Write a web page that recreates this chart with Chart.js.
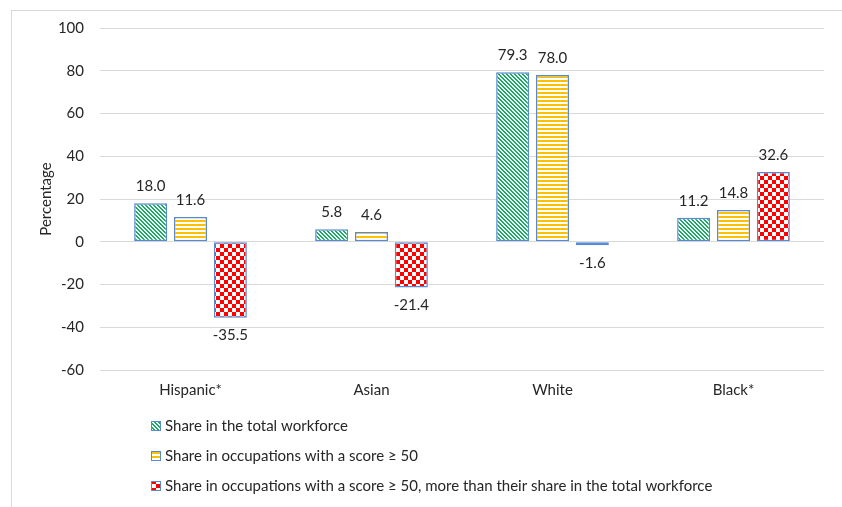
<!DOCTYPE html>
<html>
<head>
<meta charset="utf-8">
<script src="https://cdn.jsdelivr.net/npm/chart.js@4/dist/chart.umd.min.js"></script>
<style>
  html, body { margin: 0; padding: 0; background: #ffffff; }
  #wrap { position: relative; width: 842px; height: 507px; }
</style>
</head>
<body>
<div id="wrap"><canvas id="chart" width="842" height="507"></canvas></div>
<script>
// Workforce shares by group (percentages)
const categories = ['Hispanic*', 'Asian', 'White', 'Black*'];
const totalWorkforceShare = [18.0, 5.8, 79.3, 11.2];
const highScoreShare = [11.6, 4.6, 78.0, 14.8];
const excessOverWorkforce = [-35.5, -21.4, -1.6, 32.6];
const seriesNames = [
  'Share in the total workforce',
  'Share in occupations with a score \u2265 50',
  'Share in occupations with a score \u2265 50, more than their share in the total workforce'
];
const yMin = -60, yMax = 100, yStep = 20;

const FONT = 'Lato, "Liberation Sans", sans-serif';
const TEXT = '#262626';
const EDGE = '#5a88d2';

// Fill patterns: green downward diagonal, gold horizontal bands, red checkerboard
function makePattern(kind) {
  const c = document.createElement('canvas');
  const s = 8;
  c.width = s; c.height = s;
  const g = c.getContext('2d');
  g.fillStyle = '#ffffff';
  g.fillRect(0, 0, s, s);
  for (let y = 0; y < s; y++) {
    for (let x = 0; x < s; x++) {
      let on = false, col = '#000';
      if (kind === 'diag') { on = (((x - y) % 4) + 4) % 4 < 2; col = '#10b060'; }
      if (kind === 'hband') { on = (y % 4) < 2; col = '#ffc000'; }
      if (kind === 'check') { on = ((Math.floor(x / 4) + Math.floor(y / 4)) % 2) === 0; col = '#ff0000'; }
      if (on) { g.fillStyle = col; g.fillRect(x, y, 1, 1); }
    }
  }
  return g.createPattern(c, 'repeat');
}
const fills = [makePattern('diag'), makePattern('hband'), makePattern('check')];

// Values printed above positive bars and below negative ones
const valueLabels = {
  id: 'valueLabels',
  afterDatasetsDraw(chart) {
    const ctx = chart.ctx;
    ctx.save();
    ctx.font = '15px ' + FONT;
    ctx.fillStyle = TEXT;
    ctx.textAlign = 'center';
    ctx.textBaseline = 'middle';
    chart.data.datasets.forEach((ds, i) => {
      chart.getDatasetMeta(i).data.forEach((bar, j) => {
        const v = ds.data[j];
        const y = v >= 0 ? bar.y - 17 : bar.y + 18;
        ctx.fillText(v.toFixed(1), bar.x, y);
      });
    });
    ctx.restore();
  }
};

// Outer frame and stacked legend below the plot
const frameAndLegend = {
  id: 'frameAndLegend',
  beforeDraw(chart) {
    const ctx = chart.ctx;
    ctx.save();
    ctx.strokeStyle = '#d9d9d9';
    ctx.lineWidth = 1;
    ctx.strokeRect(11.5, 10.5, 900, 700);
    ctx.restore();
  },
  afterDraw(chart) {
    const ctx = chart.ctx;
    ctx.save();
    ctx.font = '15px ' + FONT;
    ctx.textBaseline = 'middle';
    ctx.textAlign = 'left';
    chart.data.datasets.forEach((ds, i) => {
      const cy = 426 + i * 30;
      ctx.fillStyle = ds.backgroundColor;
      ctx.fillRect(151, cy - 5, 10, 10);
      ctx.strokeStyle = EDGE;
      ctx.lineWidth = 1;
      ctx.strokeRect(151.5, cy - 4.5, 9, 9);
      ctx.fillStyle = TEXT;
      ctx.fillText(ds.label, 165, cy);
    });
    ctx.restore();
  }
};

const seriesData = [totalWorkforceShare, highScoreShare, excessOverWorkforce];

new Chart(document.getElementById('chart'), {
  type: 'bar',
  data: {
    labels: categories,
    datasets: seriesData.map((vals, i) => ({
      label: seriesNames[i],
      data: vals,
      backgroundColor: fills[i],
      borderColor: EDGE,
      borderWidth: 1.5,
      borderSkipped: false,
      categoryPercentage: 0.66,
      barPercentage: 0.83
    }))
  },
  options: {
    responsive: false,
    animation: false,
    devicePixelRatio: 1,
    layout: { padding: { left: 0, top: 28, right: 18, bottom: 97 } },
    plugins: {
      legend: { display: false },
      tooltip: { enabled: false }
    },
    scales: {
      x: {
        grid: { display: false, drawTicks: false },
        border: { display: false },
        ticks: { color: TEXT, font: { family: FONT, size: 15 }, padding: 11 },
        afterFit(scale) { scale.height = 40; }
      },
      y: {
        min: yMin,
        max: yMax,
        ticks: { stepSize: yStep, color: TEXT, font: { family: FONT, size: 15 }, padding: 16 },
        grid: { color: '#d9d9d9', lineWidth: 1, drawTicks: false },
        border: { display: false },
        title: {
          display: true,
          text: 'Percentage',
          color: TEXT,
          font: { family: FONT, size: 15 },
          padding: { top: 37, bottom: 0 }
        },
        afterFit(scale) { scale.width = 100; }
      }
    }
  },
  plugins: [frameAndLegend, valueLabels]
});
</script>
</body>
</html>
